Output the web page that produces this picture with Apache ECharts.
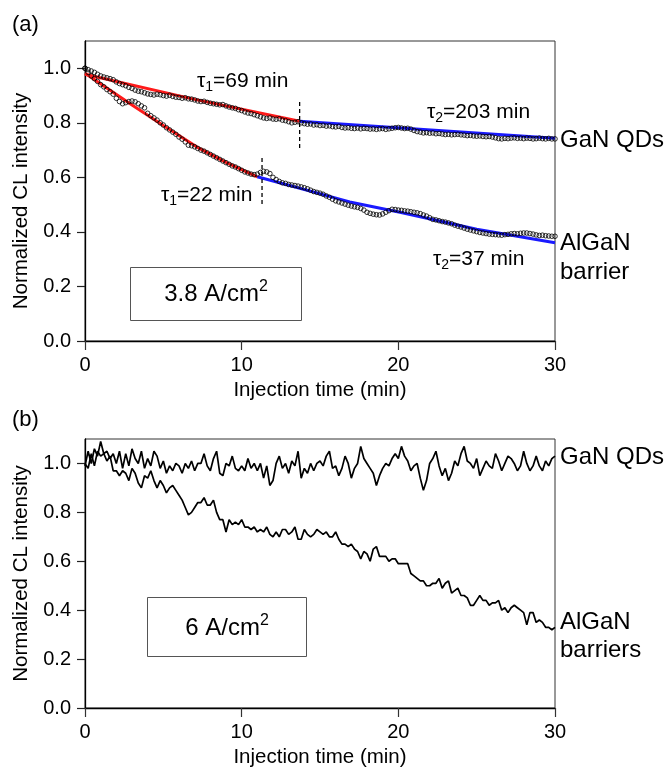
<!DOCTYPE html>
<html><head><meta charset="utf-8">
<script src="https://cdn.jsdelivr.net/npm/echarts@6/dist/echarts.min.js"></script>
<style>html,body{margin:0;padding:0;background:#fff}#c{width:665px;height:769px}</style>
</head><body><div id="c"></div>
<script>
const FONT = '"Liberation Sans", Arial, Helvetica, sans-serif';
const sampleStep = 0.2; // minutes between samples
const xTicks = [0, 10, 20, 30];
const yTicks = [0, 0.2, 0.4, 0.6, 0.8, 1.0];

// Panel (a): 3.8 A/cm2, measured points
const gaNQDsA = [
1.000,0.995,0.990,0.985,0.978,0.972,0.968,0.965,0.962,0.958,
0.950,0.944,0.940,0.936,0.930,0.926,0.920,0.916,0.914,0.910,
0.906,0.904,0.902,0.905,0.903,0.900,0.898,0.901,0.897,0.894,
0.893,0.890,0.892,0.888,0.887,0.884,0.880,0.878,0.879,0.875,
0.872,0.870,0.868,0.866,0.867,0.862,0.858,0.855,0.853,0.848,
0.845,0.840,0.836,0.834,0.830,0.826,0.822,0.818,0.816,0.818,
0.814,0.813,0.815,0.810,0.808,0.804,0.800,0.802,0.804,0.800,
0.797,0.795,0.796,0.792,0.793,0.790,0.791,0.788,0.789,0.786,
0.785,0.787,0.783,0.781,0.782,0.780,0.779,0.781,0.778,0.780,
0.779,0.777,0.778,0.776,0.778,0.779,0.776,0.778,0.780,0.782,
0.783,0.781,0.779,0.780,0.777,0.772,0.768,0.766,0.763,0.764,
0.762,0.763,0.760,0.761,0.759,0.757,0.758,0.756,0.757,0.758,
0.756,0.755,0.753,0.754,0.752,0.751,0.752,0.750,0.749,0.750,
0.748,0.745,0.742,0.741,0.743,0.742,0.744,0.745,0.743,0.744,
0.742,0.744,0.743,0.741,0.742,0.744,0.742,0.741,0.743,0.741,
0.741];
const alGaNBarrierA = [
1.000,0.985,0.972,0.962,0.952,0.940,0.932,0.922,0.914,0.905,
0.890,0.878,0.870,0.874,0.878,0.880,0.877,0.870,0.862,0.855,
0.835,0.826,0.818,0.810,0.800,0.792,0.782,0.774,0.766,0.758,
0.748,0.740,0.730,0.718,0.716,0.712,0.706,0.700,0.696,0.690,
0.684,0.678,0.672,0.666,0.660,0.654,0.648,0.642,0.638,0.632,
0.626,0.620,0.616,0.612,0.610,0.612,0.618,0.622,0.620,0.614,
0.600,0.592,0.585,0.580,0.578,0.574,0.572,0.570,0.568,0.565,
0.562,0.558,0.553,0.548,0.545,0.542,0.538,0.532,0.527,0.520,
0.514,0.510,0.506,0.502,0.498,0.495,0.492,0.490,0.486,0.480,
0.472,0.468,0.465,0.463,0.462,0.466,0.472,0.478,0.483,0.482,
0.480,0.479,0.477,0.476,0.474,0.472,0.470,0.467,0.462,0.458,
0.452,0.446,0.444,0.441,0.438,0.436,0.433,0.430,0.425,0.421,
0.418,0.414,0.410,0.407,0.404,0.401,0.398,0.396,0.394,0.392,
0.391,0.390,0.389,0.388,0.390,0.391,0.393,0.394,0.393,0.395,
0.396,0.396,0.394,0.392,0.389,0.387,0.388,0.386,0.385,0.384,
0.384];
// Panel (a) fits [time, value]
const gaNFitTau1 = [[0,0.978],[7,0.886],[13.7,0.806]];
const gaNFitTau2 = [[13.7,0.806],[30,0.743]];
const alGaNFitTau1 = [[0,0.982],[3,0.865],[5,0.79],[7.3,0.706],[9,0.655],[11,0.602]];
const alGaNFitTau2 = [[11,0.602],[16.9,0.51],[20.1,0.472],[25,0.41],[30,0.36]];
const gaNBreak = [[13.7,0.876],[13.7,0.704]];
const alGaNBreak = [[11.3,0.671],[11.3,0.499]];

// Panel (b): 6 A/cm2
const gaNQDsB = [
0.99,1.05,1.00,1.06,1.03,1.09,1.04,1.05,1.02,1.04,
1.00,1.05,0.98,1.04,0.99,1.06,1.02,1.00,1.05,0.98,
1.02,0.99,1.05,1.03,0.98,1.01,0.96,0.99,0.97,1.00,
0.99,0.96,1.00,0.98,1.01,0.97,1.00,1.00,1.04,0.99,
0.97,1.02,1.05,0.96,0.95,1.00,0.99,1.03,0.98,0.97,
0.99,0.97,1.02,0.98,1.00,0.97,1.00,0.94,0.99,0.91,
0.93,1.00,1.03,0.98,1.00,0.96,1.01,0.99,1.05,0.94,
0.98,0.96,1.00,0.97,1.00,1.01,0.99,1.03,1.05,0.98,
0.99,0.95,0.98,1.03,1.00,0.94,0.98,1.00,1.07,1.02,
1.00,0.98,0.96,0.91,0.95,0.98,1.00,0.99,1.02,1.04,
1.02,1.07,1.03,1.01,0.97,0.99,1.00,0.94,0.89,0.93,
1.00,1.02,1.05,0.99,0.95,0.98,0.93,0.96,1.01,0.99,
1.04,1.07,1.01,1.00,0.98,1.02,0.95,0.98,1.01,0.99,
0.98,1.04,1.01,0.97,1.00,1.03,1.02,1.00,0.97,0.99,
1.05,1.00,0.97,0.99,1.03,0.99,0.97,1.01,0.99,1.02,
1.03];
const alGaNBarriersB = [
1.00,0.98,1.04,0.99,1.05,1.03,1.04,1.01,1.03,0.97,
0.97,0.95,0.97,0.96,0.93,0.98,0.96,0.92,0.90,0.95,
0.94,0.97,0.93,0.90,0.93,0.91,0.88,0.90,0.91,0.89,
0.87,0.85,0.82,0.79,0.80,0.82,0.84,0.84,0.86,0.83,
0.83,0.85,0.80,0.77,0.77,0.72,0.77,0.75,0.76,0.75,
0.77,0.74,0.74,0.73,0.74,0.72,0.73,0.72,0.74,0.71,
0.70,0.72,0.70,0.73,0.73,0.71,0.72,0.74,0.69,0.69,
0.73,0.71,0.70,0.71,0.73,0.72,0.71,0.72,0.70,0.70,
0.72,0.69,0.67,0.67,0.66,0.67,0.65,0.64,0.61,0.64,
0.63,0.60,0.65,0.66,0.62,0.62,0.62,0.60,0.61,0.61,
0.59,0.59,0.59,0.59,0.55,0.54,0.53,0.52,0.52,0.50,
0.50,0.51,0.51,0.53,0.49,0.51,0.52,0.47,0.48,0.49,
0.46,0.46,0.45,0.42,0.42,0.44,0.46,0.44,0.44,0.42,
0.43,0.43,0.44,0.40,0.41,0.39,0.41,0.42,0.41,0.40,
0.39,0.34,0.39,0.39,0.35,0.36,0.35,0.33,0.33,0.32,
0.33];

const toPairs = arr => arr.map((v, i) => [Math.round(i * sampleStep * 100) / 100, v]);

function xAxisCfg(gi) {
  return {
    type: 'value', gridIndex: gi, min: 0, max: 30, interval: 10,
    name: 'Injection time (min)', nameLocation: 'middle', nameGap: 39,
    nameTextStyle: {fontFamily: FONT, fontSize: 20.5, color: '#000'},
    axisLine: {show: true, onZero: false, lineStyle: {color: '#000', width: 1.3}},
    axisTick: {show: true, inside: false, length: 9, lineStyle: {color: '#333', width: 1.2}},
    axisLabel: {fontFamily: FONT, fontSize: 20, color: '#000', margin: 14, customValues: xTicks},
    splitLine: {show: false}
  };
}
function yAxisCfg(gi, pad) {
  return {
    type: 'value', gridIndex: gi, min: 0, max: 1.1,
    name: 'Normalized CL intensity', nameLocation: 'middle', nameGap: 53,
    nameTextStyle: {fontFamily: FONT, fontSize: 20.5, color: '#000', padding: pad},
    axisLine: {show: true, onZero: false, lineStyle: {color: '#000', width: 1.3}},
    axisTick: {show: true, inside: false, length: 8, lineStyle: {color: '#222', width: 1.2}, customValues: yTicks},
    axisLabel: {fontFamily: FONT, fontSize: 20, color: '#000', margin: 14, customValues: yTicks,
      formatter: v => v.toFixed(1)},
    splitLine: {show: false}
  };
}

const lineS = (data, color, width, xi, extra) => Object.assign({
  type: 'line', xAxisIndex: xi, yAxisIndex: xi, data, showSymbol: false, symbol: 'none',
  lineStyle: {color, width}, silent: true, z: 2
}, extra || {});
const scatterS = (data) => ({
  type: 'scatter', xAxisIndex: 0, yAxisIndex: 0, data, symbol: 'circle', symbolSize: 4.6,
  itemStyle: {color: 'rgba(255,255,255,0)', borderColor: '#000', borderWidth: 1}, z: 5, silent: true
});

const tau = (n, rest) => ({
  text: '{a|τ}{b|' + n + '}{a|' + rest + '}',
  rich: {
    a: {fontFamily: FONT, fontSize: 21, lineHeight: 26, fill: '#000'},
    b: {fontFamily: FONT, fontSize: 14, lineHeight: 14, verticalAlign: 'bottom', fill: '#000'}
  }
});
const sup = (base) => ({
  text: '{a|' + base + '}{s|2}',
  rich: {
    a: {fontFamily: FONT, fontSize: 24, lineHeight: 30, fill: '#000'},
    s: {fontFamily: FONT, fontSize: 16, lineHeight: 16, verticalAlign: 'top', fill: '#000'}
  }
});
const txt = (x, y, style) => ({type: 'text', x, y, style: Object.assign({textVerticalAlign: 'middle'}, style), z: 100});
const plain = (s, size) => ({text: s, fontFamily: FONT, fontSize: size, fill: '#000'});

const chart = echarts.init(document.getElementById('c'), null, {renderer: 'canvas'});
chart.setOption({
  animation: false,
  backgroundColor: '#fff',
  grid: [
    {left: 85, top: 41, width: 470, height: 300, show: true, borderColor: '#333', borderWidth: 1},
    {left: 85, top: 439, width: 470, height: 269, show: true, borderColor: '#333', borderWidth: 1}
  ],
  xAxis: [xAxisCfg(0), xAxisCfg(1)],
  yAxis: [yAxisCfg(0, [0, 20, 0, 0]), yAxisCfg(1, [0, 0, 0, 0])],
  series: [
    lineS(gaNFitTau1, '#ff1a1a', 3, 0),
    lineS(gaNFitTau2, '#1a1aff', 3, 0),
    lineS(alGaNFitTau1, '#ff1a1a', 3, 0),
    lineS(alGaNFitTau2, '#1a1aff', 3, 0),
    lineS(gaNBreak, '#000', 1.3, 0, {lineStyle: {color: '#000', width: 1.3, type: [4, 3]}, z: 6}),
    lineS(alGaNBreak, '#000', 1.3, 0, {lineStyle: {color: '#000', width: 1.3, type: [4, 3]}, z: 6}),
    scatterS(toPairs(gaNQDsA)),
    scatterS(toPairs(alGaNBarrierA)),
    lineS(toPairs(gaNQDsB), '#000', 1.7, 1),
    lineS(toPairs(alGaNBarriersB), '#000', 1.7, 1)
  ],
  graphic: [
    txt(12, 25, plain('(a)', 22)),
    txt(12, 420, plain('(b)', 22)),
    txt(197, 81, tau('1', '=69 min')),
    txt(161, 195, tau('1', '=22 min')),
    txt(427, 112, tau('2', '=203 min')),
    txt(433, 259, tau('2', '=37 min')),
    txt(560, 140, plain('GaN QDs', 24)),
    txt(560, 243, plain('AlGaN', 24)),
    txt(560, 272, plain('barrier', 24)),
    txt(560, 457, plain('GaN QDs', 24)),
    txt(560, 622, plain('AlGaN', 24)),
    txt(560, 650, plain('barriers', 24)),
    {type: 'rect', shape: {x: 130.5, y: 267.5, width: 171, height: 53}, style: {fill: '#fff', stroke: '#555', lineWidth: 1}, z: 90},
    {type: 'text', x: 216, y: 294, style: Object.assign({textAlign: 'center', textVerticalAlign: 'middle'}, sup('3.8 A/cm')), z: 100},
    {type: 'rect', shape: {x: 147.5, y: 597.5, width: 159, height: 59}, style: {fill: '#fff', stroke: '#555', lineWidth: 1}, z: 90},
    {type: 'text', x: 227, y: 628, style: Object.assign({textAlign: 'center', textVerticalAlign: 'middle'}, sup('6 A/cm')), z: 100}
  ]
});
</script></body></html>
